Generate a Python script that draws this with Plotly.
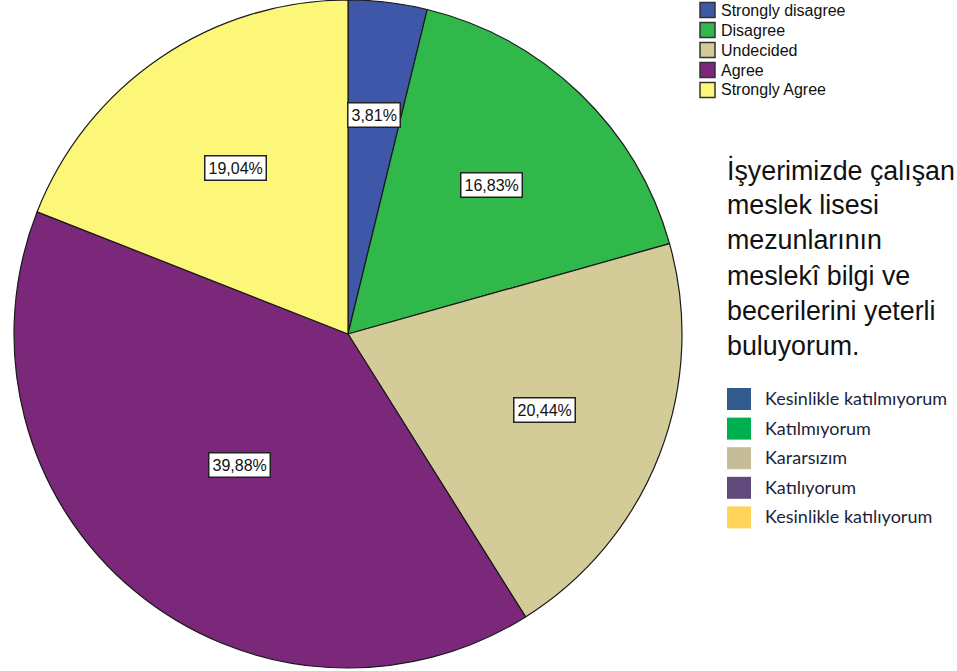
import math
import plotly.graph_objects as go

# Survey answers and their shares (percent)
categories = ["Strongly disagree", "Disagree", "Undecided", "Agree", "Strongly Agree"]
percentages = [3.81, 16.83, 20.44, 39.88, 19.04]
slice_colors = ["#3F57A8", "#30B84A", "#D3CB98", "#7B287B", "#FCF679"]

# Turkish answer scale shown in the secondary key
tr_labels = ["Kesinlikle katılmıyorum", "Katılmıyorum", "Kararsızım",
             "Katılıyorum", "Kesinlikle katılıyorum"]
tr_colors = ["#335A8E", "#00B050", "#C4BD97", "#604A7B", "#FFD45A"]

# Statement the answers refer to
title_lines = ["İşyerimizde çalışan", "meslek lisesi", "mezunlarının",
               "meslekî bilgi ve", "becerilerini yeterli", "buluyorum."]

W, H = 957, 671
FONT = "Liberation Sans, Arial, sans-serif"

# pie geometry in pixels
cx, cy, r = 348, 334, 334
dom_x = [(cx - r) / W, (cx + r) / W]
dom_y = [1 - (cy + r) / H, 1.0]

# radial position (fraction of radius) of each percentage box
label_radius = [0.66, 0.62, 0.63, 0.51, 0.60]

fig = go.Figure()
fig.add_trace(go.Pie(
    labels=categories,
    values=percentages,
    sort=False,
    direction="clockwise",
    rotation=0,
    marker=dict(colors=slice_colors, line=dict(color="#1a1a1a", width=1.2)),
    textinfo="none",
    hovertemplate="%{label}: %{value}%<extra></extra>",
    domain=dict(x=dom_x, y=dom_y),
    showlegend=False,
))

def px_to_paper(x, y):
    return x / W, 1 - y / H

annotations = []
shapes = []

# percentage boxes at the middle angle of every slice
total = sum(percentages)
cum = 0.0
for v, f in zip(percentages, label_radius):
    mid = (cum + v / 2) / total * 2 * math.pi
    cum += v
    lx = cx + f * r * math.sin(mid)
    ly = cy - f * r * math.cos(mid)
    px, py = px_to_paper(lx, ly)
    annotations.append(dict(
        x=px, y=py, xref="paper", yref="paper", showarrow=False,
        xanchor="center", yanchor="middle",
        text=f"{v:.2f}".replace(".", ",") + "%",
        font=dict(family=FONT, size=16, color="#111111"),
        bgcolor="white", bordercolor="#222222", borderwidth=1.5, borderpad=3,
    ))

# English key (top right)
for i, (lab, col) in enumerate(zip(categories, slice_colors)):
    yc = 10 + 20 * i
    x0, y0 = px_to_paper(700, yc - 7.5)
    x1, y1 = px_to_paper(715, yc + 7.5)
    shapes.append(dict(type="rect", xref="paper", yref="paper",
                       x0=x0, x1=x1, y0=y1, y1=y0, fillcolor=col,
                       line=dict(color="#333333", width=1.5)))
    tx, ty = px_to_paper(719, yc)
    annotations.append(dict(
        x=tx, y=ty, xref="paper", yref="paper", showarrow=False,
        xanchor="left", yanchor="middle", text=lab,
        font=dict(family=FONT, size=16, color="#111111"),
    ))

# statement text
for i, line in enumerate(title_lines):
    tx, ty = px_to_paper(725, 170 + 35.2 * i)
    annotations.append(dict(
        x=tx, y=ty, xref="paper", yref="paper", showarrow=False,
        xanchor="left", yanchor="middle", text=line,
        font=dict(family=FONT, size=26.8, color="#111111"),
    ))

# Turkish key
for i, (lab, col) in enumerate(zip(tr_labels, tr_colors)):
    yc = 399 + 29.6 * i
    x0, y0 = px_to_paper(727, yc - 11)
    x1, y1 = px_to_paper(751, yc + 11)
    shapes.append(dict(type="rect", xref="paper", yref="paper",
                       x0=x0, x1=x1, y0=y1, y1=y0, fillcolor=col,
                       line=dict(width=0)))
    tx, ty = px_to_paper(763, yc - 1)
    annotations.append(dict(
        x=tx, y=ty, xref="paper", yref="paper", showarrow=False,
        xanchor="left", yanchor="middle", text=lab,
        font=dict(family="Lato, Carlito, sans-serif", size=18, color="#1c1f3c"),
    ))

fig.update_layout(
    width=W, height=H,
    margin=dict(l=0, r=0, t=0, b=0),
    paper_bgcolor="white", plot_bgcolor="white",
    annotations=annotations, shapes=shapes,
)

fig.write_html("out.html")
